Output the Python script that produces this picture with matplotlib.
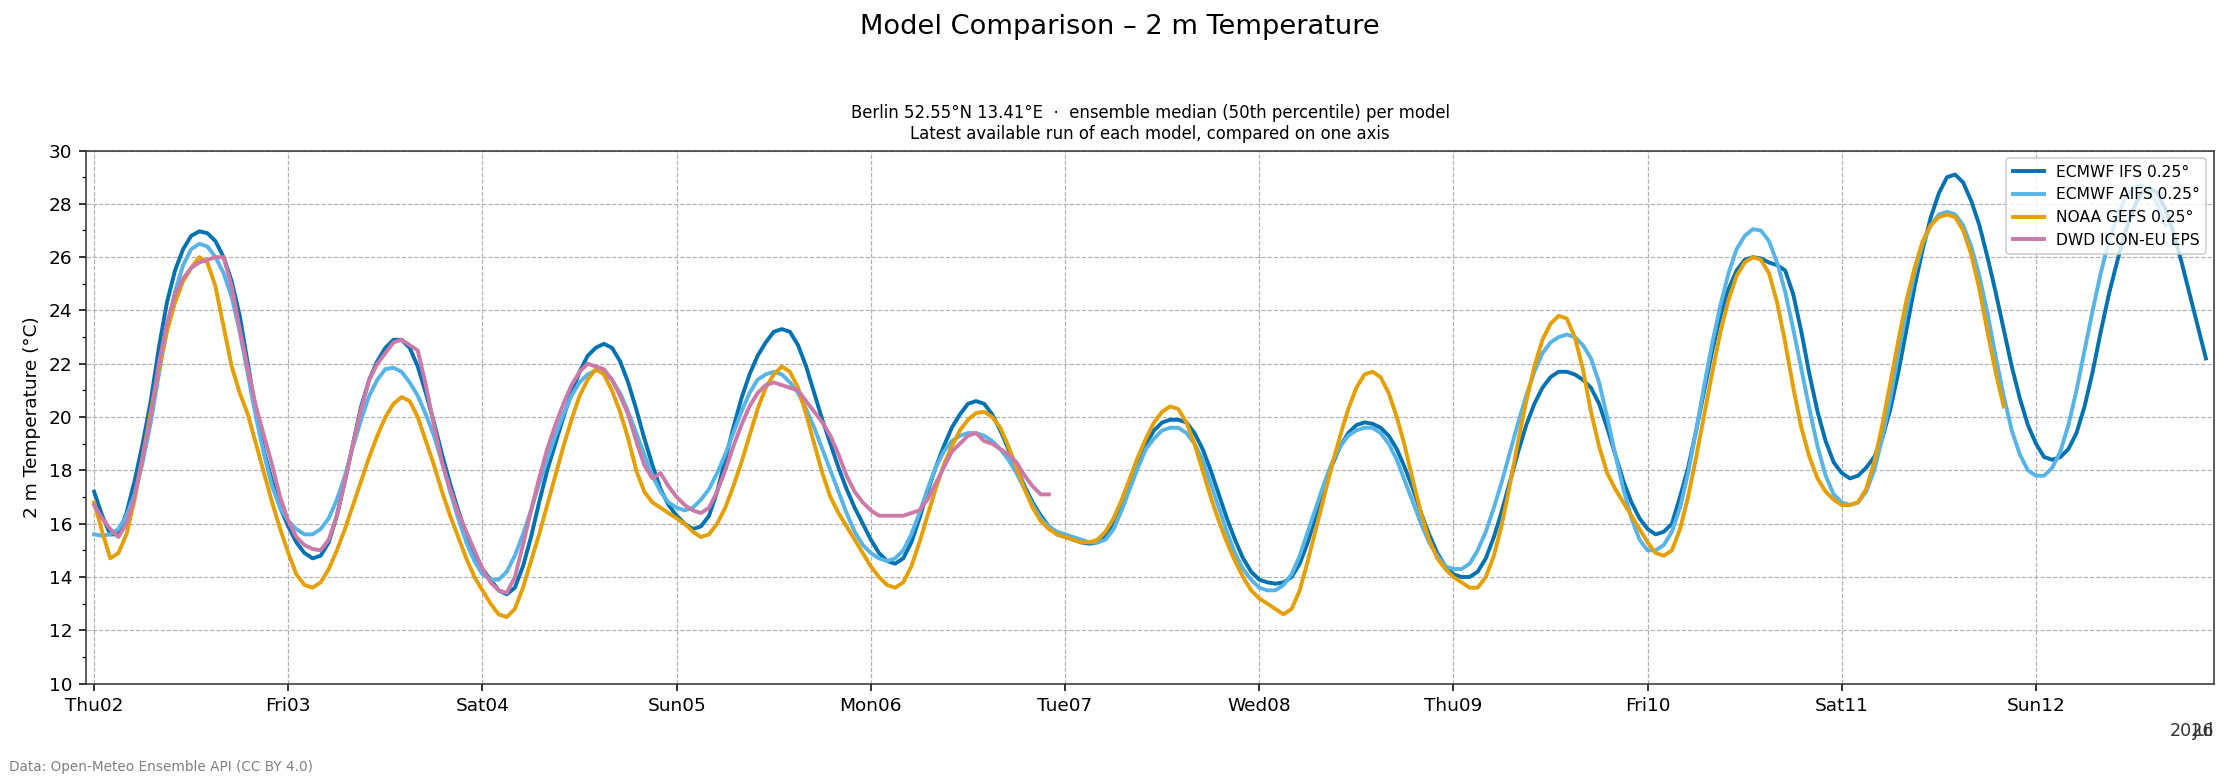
import datetime as dt
import matplotlib
matplotlib.use("Agg")
import matplotlib.pyplot as plt
import matplotlib.dates as mdates
import pandas as pd
from matplotlib.ticker import MultipleLocator

# hourly ensemble median 2 m temperature (degC), first value at 2026-07-02 00:00
ifs_temp = [
    17.2, 16.3, 15.6, 15.6, 16.4, 17.6, 19.0, 20.6, 22.6, 24.3,    # 0
    25.5, 26.3, 26.8, 26.97, 26.9, 26.6, 26.0, 25.1, 23.8, 22.0,   # 10
    20.2, 18.7, 17.6, 16.6, 15.9, 15.3, 14.9, 14.7, 14.8, 15.3,    # 20
    16.3, 17.6, 19.0, 20.4, 21.4, 22.1, 22.6, 22.9, 22.9, 22.6,    # 30
    21.9, 20.9, 19.8, 18.6, 17.5, 16.5, 15.6, 14.9, 14.3, 13.9,    # 40
    13.5, 13.35, 13.6, 14.4, 15.5, 16.8, 18.0, 19.0, 20.0, 20.9,   # 50
    21.7, 22.3, 22.6, 22.75, 22.6, 22.1, 21.3, 20.3, 19.2, 18.2,   # 60
    17.3, 16.7, 16.3, 16.0, 15.8, 15.9, 16.3, 17.2, 18.4, 19.6,    # 70
    20.7, 21.6, 22.3, 22.8, 23.2, 23.3, 23.2, 22.7, 21.9, 20.9,    # 80
    19.9, 19.0, 18.1, 17.3, 16.6, 16.0, 15.4, 14.9, 14.6, 14.5,    # 90
    14.7, 15.3, 16.2, 17.2, 18.1, 18.9, 19.6, 20.1, 20.5, 20.6,    # 100
    20.5, 20.1, 19.5, 18.8, 18.1, 17.4, 16.8, 16.3, 15.9, 15.6,    # 110
    15.5, 15.4, 15.3, 15.25, 15.3, 15.5, 16.0, 16.7, 17.5, 18.3,   # 120
    19.0, 19.5, 19.8, 19.9, 19.9, 19.8, 19.4, 18.8, 18.0, 17.1,    # 130
    16.2, 15.4, 14.7, 14.2, 13.9, 13.8, 13.75, 13.8, 14.0, 14.5,   # 140
    15.3, 16.3, 17.3, 18.2, 18.9, 19.4, 19.7, 19.8, 19.75, 19.6,   # 150
    19.3, 18.8, 18.1, 17.3, 16.4, 15.6, 14.9, 14.4, 14.1, 14.0,    # 160
    14.0, 14.2, 14.7, 15.5, 16.5, 17.6, 18.7, 19.7, 20.5, 21.1,    # 170
    21.5, 21.7, 21.7, 21.6, 21.4, 21.1, 20.5, 19.6, 18.6, 17.6,    # 180
    16.8, 16.2, 15.8, 15.6, 15.7, 16.0, 17.0, 18.1, 19.5, 21.0,    # 190
    22.5, 23.8, 24.8, 25.5, 25.9, 26.0, 25.95, 25.8, 25.7, 25.5,   # 200
    24.6, 23.2, 21.6, 20.2, 19.1, 18.3, 17.9, 17.7, 17.8, 18.1,    # 210
    18.5, 19.2, 20.3, 21.7, 23.3, 24.9, 26.3, 27.5, 28.4, 29.0,    # 220
    29.1, 28.8, 28.1, 27.2, 26.0, 24.7, 23.3, 21.9, 20.7, 19.7,    # 230
    19.0, 18.5, 18.4, 18.5, 18.8, 19.4, 20.4, 21.7, 23.2, 24.6,    # 240
    25.8, 26.9, 27.8, 28.4, 28.6, 28.4, 27.8, 26.9, 25.8, 24.6,    # 250
    23.4, 22.2,                                                    # 260
]

aifs_temp = [
    15.6, 15.55, 15.6, 15.8, 16.3, 17.1, 18.3, 19.8, 21.6, 23.3,
    24.7, 25.7, 26.3, 26.5, 26.4, 26.0, 25.4, 24.5, 23.2, 21.6,
    20.0, 18.6, 17.4, 16.6, 16.1, 15.8, 15.6, 15.6, 15.8, 16.2,
    16.9, 17.8, 18.9, 19.9, 20.8, 21.4, 21.8, 21.85, 21.7, 21.3,
    20.8, 20.1, 19.3, 18.3, 17.2, 16.2, 15.3, 14.6, 14.1, 13.9,
    13.9, 14.2, 14.8, 15.6, 16.5, 17.5, 18.4, 19.3, 20.1, 20.8,
    21.3, 21.6, 21.75, 21.7, 21.4, 20.9, 20.2, 19.4, 18.6, 17.8,
    17.2, 16.8, 16.6, 16.5, 16.6, 16.9, 17.3, 17.9, 18.6, 19.4,
    20.2, 20.9, 21.4, 21.6, 21.7, 21.6, 21.3, 20.9, 20.3, 19.6,
    18.8, 18.0, 17.2, 16.4, 15.7, 15.2, 14.9, 14.7, 14.6, 14.7,
    15.0, 15.6, 16.4, 17.3, 18.1, 18.7, 19.1, 19.3, 19.4, 19.4,
    19.3, 19.1, 18.8, 18.4, 17.9, 17.3, 16.7, 16.2, 15.9, 15.7,
    15.6, 15.5, 15.4, 15.3, 15.3, 15.4, 15.8, 16.5, 17.3, 18.1,
    18.8, 19.2, 19.5, 19.6, 19.6, 19.4, 19.0, 18.4, 17.5, 16.6,
    15.7, 14.9, 14.3, 13.9, 13.6, 13.5, 13.5, 13.7, 14.1, 14.8,
    15.7, 16.6, 17.5, 18.3, 18.9, 19.3, 19.5, 19.6, 19.6, 19.4,
    19.0, 18.4, 17.6, 16.8, 16.0, 15.3, 14.8, 14.4, 14.3, 14.3,
    14.5, 15.0, 15.7, 16.6, 17.6, 18.7, 19.8, 20.8, 21.7, 22.4,
    22.8, 23.0, 23.1, 23.0, 22.7, 22.2, 21.3, 20.0, 18.6, 17.3,
    16.2, 15.4, 15.0, 15.0, 15.2, 15.7, 16.6, 17.9, 19.5, 21.2,
    22.8, 24.2, 25.4, 26.3, 26.8, 27.05, 27.0, 26.6, 25.8, 24.7,
    23.3, 21.8, 20.3, 18.9, 17.8, 17.1, 16.8, 16.7, 16.8, 17.2,
    18.0, 19.2, 20.7, 22.4, 24.0, 25.4, 26.5, 27.2, 27.6, 27.7,
    27.6, 27.2, 26.4, 25.3, 23.9, 22.3, 20.8, 19.5, 18.6, 18.0,
    17.8, 17.8, 18.1, 18.7, 19.7, 21.0, 22.5, 24.0, 25.4, 26.6,
    27.5, 28.2, 28.6, 28.7, 28.5, 28.0, 27.2,
]

gefs_temp = [
    16.8, 15.7, 14.7, 14.9, 15.6, 16.9, 18.5, 20.2, 21.8, 23.2,
    24.3, 25.1, 25.6, 26.0, 25.8, 24.9, 23.4, 21.9, 20.9, 20.1,
    19.0, 17.9, 16.8, 15.8, 14.9, 14.1, 13.7, 13.6, 13.8, 14.3,
    15.0, 15.8, 16.7, 17.6, 18.5, 19.3, 20.0, 20.5, 20.75, 20.6,
    20.0, 19.1, 18.2, 17.2, 16.3, 15.5, 14.7, 14.0, 13.5, 13.0,
    12.6, 12.5, 12.8, 13.6, 14.6, 15.6, 16.7, 17.8, 18.9, 19.9,
    20.8, 21.4, 21.8, 21.6, 21.0, 20.2, 19.2, 18.0, 17.2, 16.8,
    16.6, 16.4, 16.2, 16.0, 15.7, 15.5, 15.6, 16.0, 16.6, 17.4,
    18.3, 19.3, 20.3, 21.1, 21.6, 21.9, 21.7, 21.1, 20.1, 19.0,
    17.9, 17.0, 16.4, 15.9, 15.4, 14.9, 14.4, 14.0, 13.7, 13.6,
    13.8, 14.4, 15.3, 16.3, 17.3, 18.2, 18.9, 19.5, 19.9, 20.15,
    20.2, 20.0, 19.6, 18.9, 18.1, 17.3, 16.6, 16.1, 15.8, 15.6,
    15.5, 15.4, 15.3, 15.3, 15.4, 15.7, 16.2, 16.9, 17.7, 18.5,
    19.2, 19.8, 20.2, 20.4, 20.3, 19.8, 19.0, 18.0, 17.0, 16.1,
    15.3, 14.6, 14.0, 13.5, 13.2, 13.0, 12.8, 12.6, 12.8, 13.5,
    14.6, 15.8, 17.0, 18.2, 19.3, 20.3, 21.1, 21.6, 21.7, 21.5,
    20.9, 20.0, 18.9, 17.6, 16.4, 15.4, 14.7, 14.3, 14.0, 13.8,
    13.6, 13.6, 14.0, 14.8, 16.0, 17.5, 19.1, 20.6, 21.9, 22.9,
    23.5, 23.8, 23.7, 23.0, 21.8, 20.2, 18.9, 17.9, 17.3, 16.8,
    16.3, 15.8, 15.3, 14.9, 14.8, 15.0, 15.8, 17.0, 18.5, 20.1,
    21.7, 23.2, 24.4, 25.3, 25.8, 26.0, 25.9, 25.4, 24.3, 22.8,
    21.1, 19.6, 18.5, 17.7, 17.2, 16.9, 16.7, 16.7, 16.8, 17.3,
    18.3, 19.7, 21.3, 22.9, 24.4, 25.6, 26.6, 27.2, 27.5, 27.6,
    27.5, 27.0, 26.1, 24.8, 23.2, 21.7, 20.4,
]

icon_temp = [
    16.7, 16.2, 15.8, 15.5, 16.0, 17.0, 18.5, 20.0, 22.0, 23.5,
    24.6, 25.2, 25.6, 25.8, 25.9, 26.0, 26.0, 24.9, 23.3, 21.8,
    20.4, 19.3, 18.2, 17.0, 16.1, 15.5, 15.2, 15.05, 15.0, 15.4,
    16.3, 17.6, 19.0, 20.3, 21.4, 22.0, 22.4, 22.8, 22.9, 22.7,
    22.5, 21.2, 19.7, 18.3, 17.3, 16.4, 15.7, 15.0, 14.3, 13.8,
    13.5, 13.4, 14.0, 15.2, 16.5, 17.7, 18.8, 19.7, 20.5, 21.2,
    21.7, 22.0, 21.9, 21.8, 21.4, 20.8, 20.1, 19.1, 18.2, 17.7,
    17.9, 17.4, 17.0, 16.7, 16.5, 16.4, 16.6, 17.2, 18.0, 18.9,
    19.7, 20.4, 20.9, 21.2, 21.3, 21.2, 21.1, 21.0, 20.6, 20.2,
    19.8, 19.3, 18.6, 17.8, 17.2, 16.8, 16.5, 16.3, 16.3, 16.3,
    16.3, 16.4, 16.5, 16.9, 17.5, 18.1, 18.7, 19.0, 19.3, 19.4,
    19.1, 19.0, 18.8, 18.6, 18.3, 17.8, 17.4, 17.1, 17.1,
]

models = ["ECMWF IFS 0.25°", "ECMWF AIFS 0.25°", "NOAA GEFS 0.25°", "DWD ICON-EU EPS"]
series = [ifs_temp, aifs_temp, gefs_temp, icon_temp]
colors = ["#0072B2", "#56B4E9", "#E69F00", "#CC79A7"]

start = dt.datetime(2026, 7, 2)

fig = plt.figure(figsize=(16, 5.6), dpi=140)
ax = fig.add_axes([0.0384, 0.128, 0.950, 0.680])

for name, temp, color in zip(models, series, colors):
    times = pd.date_range(start, periods=len(temp), freq="h")
    ax.plot(times, temp, color=color, lw=2, label=name)

ax.set_xlim(start - dt.timedelta(hours=1), start + dt.timedelta(hours=262))
ax.set_ylim(10, 30)
ax.yaxis.set_major_locator(MultipleLocator(2))
ax.yaxis.set_minor_locator(MultipleLocator(1))
ax.xaxis.set_major_locator(mdates.DayLocator())
ax.xaxis.set_major_formatter(mdates.DateFormatter("%a%d"))
ax.tick_params(labelsize=9.5)
for s in ax.spines.values():
    s.set_color("#333333")

ax.grid(True, which="major", linestyle="--", linewidth=0.6, color="#b0b0b0")
ax.set_ylabel("2 m Temperature (°C)", fontsize=9.5)
ax.set_title("Berlin 52.55°N 13.41°E  ·  ensemble median (50th percentile) per model\n"
             "Latest available run of each model, compared on one axis", fontsize=8.5)
ax.legend(loc="upper right", fontsize=8)

# overlapping offset labels under the right end of the x axis
ax.text(1.0, -0.089, "2026", transform=ax.transAxes, ha="right", va="center", fontsize=9, color="#333333")
ax.text(1.0, -0.089, "Jul", transform=ax.transAxes, ha="right", va="center", fontsize=9, color="#333333")

fig.suptitle("Model Comparison – 2 m Temperature", fontsize=14, y=0.982)
fig.text(0.004, 0.016, "Data: Open-Meteo Ensemble API (CC BY 4.0)", fontsize=7, color="gray")

fig.savefig("out.png", dpi=140)
